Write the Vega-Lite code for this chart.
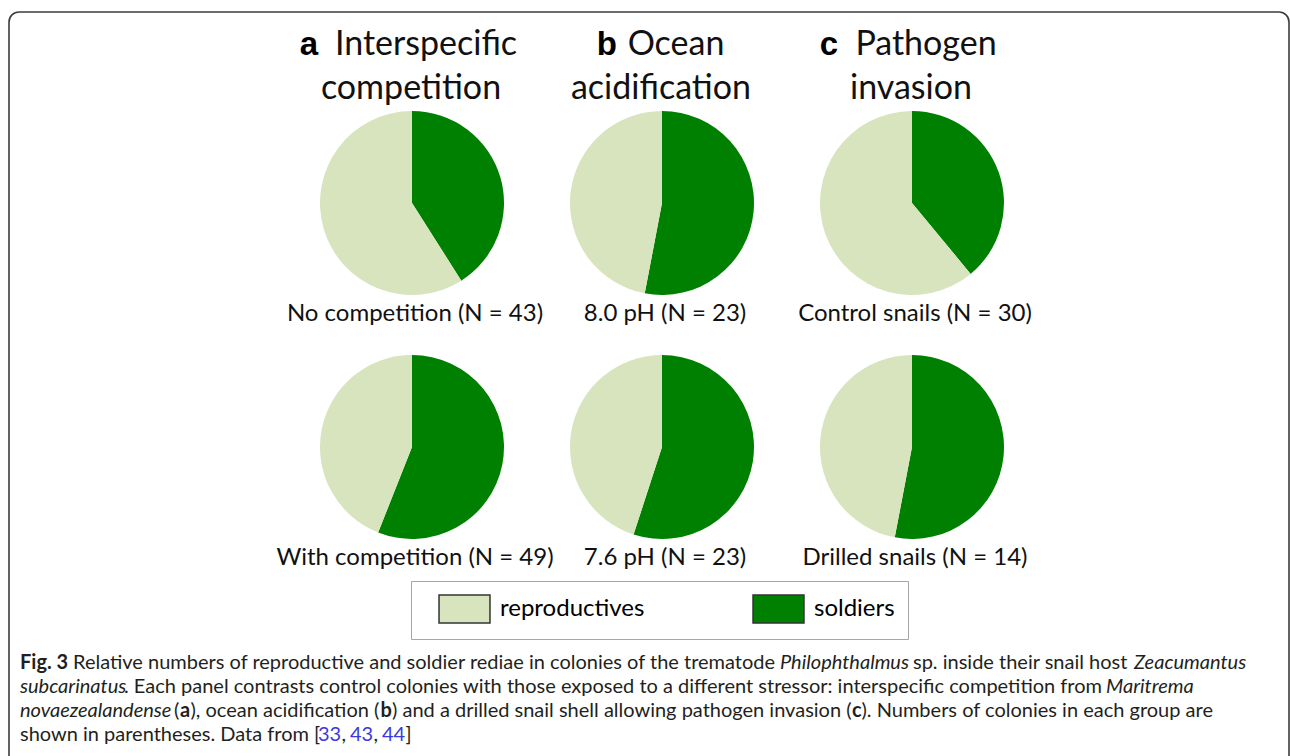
{
 "$schema": "https://vega.github.io/schema/vega-lite/v6.json",
 "width": 1280, "height": 760,
 "autosize": {"type": "none"},
 "padding": {"left": 9, "top": 12, "right": 1, "bottom": -16},
 "background": "white",
 "config": {"view": {"stroke": "#3c3c3c", "strokeWidth": 1.6, "cornerRadius": 10}, "font": "Lato"},
 "layer": [
  {
   "data": {"values": [
    {"col": "a", "row": "control", "group": "soldiers", "pct": 41},
    {"col": "a", "row": "control", "group": "reproductives", "pct": 59},
    {"col": "a", "row": "treatment", "group": "soldiers", "pct": 56},
    {"col": "a", "row": "treatment", "group": "reproductives", "pct": 44},
    {"col": "b", "row": "control", "group": "soldiers", "pct": 53},
    {"col": "b", "row": "control", "group": "reproductives", "pct": 47},
    {"col": "b", "row": "treatment", "group": "soldiers", "pct": 55},
    {"col": "b", "row": "treatment", "group": "reproductives", "pct": 45},
    {"col": "c", "row": "control", "group": "soldiers", "pct": 39},
    {"col": "c", "row": "control", "group": "reproductives", "pct": 61},
    {"col": "c", "row": "treatment", "group": "soldiers", "pct": 53},
    {"col": "c", "row": "treatment", "group": "reproductives", "pct": 47}
   ]},
   "transform": [{"stack": "pct", "groupby": ["col", "row"], "sort": [{"field": "group", "order": "descending"}], "as": ["p0", "p1"]}],
   "mark": {"type": "arc", "radius": 92},
   "encoding": {
    "x": {"field": "col", "type": "nominal", "scale": {"type": "point", "domain": ["a", "b", "c"], "range": [403, 903], "padding": 0}, "axis": null},
    "y": {"field": "row", "type": "nominal", "scale": {"type": "point", "domain": ["control", "treatment"], "range": [191, 435], "padding": 0}, "axis": null},
    "theta": {"field": "p0", "type": "quantitative", "scale": {"domain": [0, 100]}, "stack": null},
    "theta2": {"field": "p1"},
    "color": {"field": "group", "type": "nominal",
     "scale": {"domain": ["reproductives", "soldiers"], "range": ["#D7E4BD", "#008000"]},
     "legend": {"orient": "none", "legendX": 402, "legendY": 569, "direction": "horizontal", "title": null,
      "symbolType": "M-1.82,-1H1.82V1H-1.82Z", "symbolSize": 784, "symbolOffset": 25.5, "labelOffset": 20.5,
      "columnPadding": 93, "padding": 13, "strokeColor": "#a6a6a6", "labelFont": "Lato", "labelFontSize": 24,
      "labelColor": "#000", "symbolStrokeColor": "#333", "symbolStrokeWidth": 1.5, "symbolOpacity": 1}}
   }
  },
  {
   "data": {"values": [{"col": "a", "word": "Interspecific"}, {"col": "b", "word": "Ocean"}, {"col": "c", "word": "Pathogen"}]},
   "mark": {"type": "text", "font": "Lato", "fontSize": 34, "align": "center", "baseline": "alphabetic", "dx": 14, "dy": -148, "color": "#111"},
   "encoding": {"x": {"field": "col", "type": "nominal"}, "y": {"datum": "control"}, "text": {"field": "word"}}
  },
  {
   "data": {"values": [{"col": "a", "word": "competition"}, {"col": "b", "word": "acidification"}, {"col": "c", "word": "invasion"}]},
   "mark": {"type": "text", "font": "Lato", "fontSize": 34, "align": "center", "baseline": "alphabetic", "dx": -1, "dy": -104, "color": "#111"},
   "encoding": {"x": {"field": "col", "type": "nominal"}, "y": {"datum": "control"}, "text": {"field": "word"}}
  },
  {
   "data": {"values": [{"col": "a", "letter": "a"}]},
   "mark": {"type": "text", "font": "Liberation Sans", "fontWeight": "bold", "fontSize": 33, "align": "right", "baseline": "alphabetic", "dx": -94, "dy": -148, "color": "#000"},
   "encoding": {"x": {"field": "col", "type": "nominal"}, "y": {"datum": "control"}, "text": {"field": "letter"}}
  },
  {
   "data": {"values": [{"col": "b", "letter": "b"}]},
   "mark": {"type": "text", "font": "Liberation Sans", "fontWeight": "bold", "fontSize": 33, "align": "right", "baseline": "alphabetic", "dx": -45, "dy": -148, "color": "#000"},
   "encoding": {"x": {"field": "col", "type": "nominal"}, "y": {"datum": "control"}, "text": {"field": "letter"}}
  },
  {
   "data": {"values": [{"col": "c", "letter": "c"}]},
   "mark": {"type": "text", "font": "Liberation Sans", "fontWeight": "bold", "fontSize": 33, "align": "right", "baseline": "alphabetic", "dx": -74, "dy": -148, "color": "#000"},
   "encoding": {"x": {"field": "col", "type": "nominal"}, "y": {"datum": "control"}, "text": {"field": "letter"}}
  },
  {
   "data": {"values": [
    {"col": "a", "row": "control", "label": "No competition (N = 43)"},
    {"col": "a", "row": "treatment", "label": "With competition (N = 49)"},
    {"col": "b", "row": "control", "label": "8.0 pH (N = 23)"},
    {"col": "b", "row": "treatment", "label": "7.6 pH (N = 23)"},
    {"col": "c", "row": "control", "label": "Control snails (N = 30)"},
    {"col": "c", "row": "treatment", "label": "Drilled snails (N = 14)"}
   ]},
   "mark": {"type": "text", "font": "Lato", "fontSize": 24, "align": "center", "baseline": "alphabetic", "dx": 3, "dy": 118, "color": "#111"},
   "encoding": {"x": {"field": "col", "type": "nominal"}, "y": {"field": "row", "type": "nominal"}, "text": {"field": "label"}}
  },
  {"data": {"values": [{"t": "Fig. 3"}]}, "mark": {"type": "text", "align": "left", "baseline": "alphabetic", "fontSize": 20, "fontWeight": "bold", "color": "#231f20", "dx": -392, "dy": 222}, "encoding": {"x": {"datum": "a"}, "y": {"datum": "treatment"}, "text": {"field": "t"}}},
  {"data": {"values": [{"t": "Relative numbers of reproductive and soldier rediae in colonies of the trematode"}]}, "mark": {"type": "text", "align": "left", "baseline": "alphabetic", "fontSize": 20, "color": "#231f20", "dx": -339, "dy": 222}, "encoding": {"x": {"datum": "a"}, "y": {"datum": "treatment"}, "text": {"field": "t"}}},
  {"data": {"values": [{"t": "Philophthalmus"}]}, "mark": {"type": "text", "align": "left", "baseline": "alphabetic", "fontSize": 20, "fontStyle": "italic", "color": "#231f20", "dx": 368, "dy": 222}, "encoding": {"x": {"datum": "a"}, "y": {"datum": "treatment"}, "text": {"field": "t"}}},
  {"data": {"values": [{"t": "sp. inside their snail host"}]}, "mark": {"type": "text", "align": "left", "baseline": "alphabetic", "fontSize": 20, "color": "#231f20", "dx": 501, "dy": 222}, "encoding": {"x": {"datum": "a"}, "y": {"datum": "treatment"}, "text": {"field": "t"}}},
  {"data": {"values": [{"t": "Zeacumantus"}]}, "mark": {"type": "text", "align": "left", "baseline": "alphabetic", "fontSize": 20, "fontStyle": "italic", "color": "#231f20", "dx": 722, "dy": 222}, "encoding": {"x": {"datum": "a"}, "y": {"datum": "treatment"}, "text": {"field": "t"}}},
  {"data": {"values": [{"t": "subcarinatus"}]}, "mark": {"type": "text", "align": "left", "baseline": "alphabetic", "fontSize": 20, "fontStyle": "italic", "color": "#231f20", "dx": -392, "dy": 246}, "encoding": {"x": {"datum": "a"}, "y": {"datum": "treatment"}, "text": {"field": "t"}}},
  {"data": {"values": [{"t": ". Each panel contrasts control colonies with those exposed to a different stressor: interspecific competition from"}]}, "mark": {"type": "text", "align": "left", "baseline": "alphabetic", "fontSize": 20, "color": "#231f20", "dx": -288, "dy": 246}, "encoding": {"x": {"datum": "a"}, "y": {"datum": "treatment"}, "text": {"field": "t"}}},
  {"data": {"values": [{"t": "Maritrema"}]}, "mark": {"type": "text", "align": "left", "baseline": "alphabetic", "fontSize": 20, "fontStyle": "italic", "color": "#231f20", "dx": 694, "dy": 246}, "encoding": {"x": {"datum": "a"}, "y": {"datum": "treatment"}, "text": {"field": "t"}}},
  {"data": {"values": [{"t": "novaezealandense"}]}, "mark": {"type": "text", "align": "left", "baseline": "alphabetic", "fontSize": 20, "fontStyle": "italic", "color": "#231f20", "dx": -392, "dy": 270}, "encoding": {"x": {"datum": "a"}, "y": {"datum": "treatment"}, "text": {"field": "t"}}},
  {"data": {"values": [{"t": "("}]}, "mark": {"type": "text", "align": "left", "baseline": "alphabetic", "fontSize": 20, "color": "#231f20", "dx": -238, "dy": 270}, "encoding": {"x": {"datum": "a"}, "y": {"datum": "treatment"}, "text": {"field": "t"}}},
  {"data": {"values": [{"t": "a"}]}, "mark": {"type": "text", "align": "left", "baseline": "alphabetic", "fontSize": 20, "fontWeight": "bold", "color": "#231f20", "dx": -232, "dy": 270}, "encoding": {"x": {"datum": "a"}, "y": {"datum": "treatment"}, "text": {"field": "t"}}},
  {"data": {"values": [{"t": "), ocean acidification ("}]}, "mark": {"type": "text", "align": "left", "baseline": "alphabetic", "fontSize": 20, "color": "#231f20", "dx": -221.5, "dy": 270}, "encoding": {"x": {"datum": "a"}, "y": {"datum": "treatment"}, "text": {"field": "t"}}},
  {"data": {"values": [{"t": "b"}]}, "mark": {"type": "text", "align": "left", "baseline": "alphabetic", "fontSize": 20, "fontWeight": "bold", "color": "#231f20", "dx": -31.5, "dy": 270}, "encoding": {"x": {"datum": "a"}, "y": {"datum": "treatment"}, "text": {"field": "t"}}},
  {"data": {"values": [{"t": ") and a drilled snail shell allowing pathogen invasion ("}]}, "mark": {"type": "text", "align": "left", "baseline": "alphabetic", "fontSize": 20, "color": "#231f20", "dx": -20, "dy": 270}, "encoding": {"x": {"datum": "a"}, "y": {"datum": "treatment"}, "text": {"field": "t"}}},
  {"data": {"values": [{"t": "c"}]}, "mark": {"type": "text", "align": "left", "baseline": "alphabetic", "fontSize": 20, "fontWeight": "bold", "color": "#231f20", "dx": 440, "dy": 270}, "encoding": {"x": {"datum": "a"}, "y": {"datum": "treatment"}, "text": {"field": "t"}}},
  {"data": {"values": [{"t": "). Numbers of colonies in each group are"}]}, "mark": {"type": "text", "align": "left", "baseline": "alphabetic", "fontSize": 20, "color": "#231f20", "dx": 449.5, "dy": 270}, "encoding": {"x": {"datum": "a"}, "y": {"datum": "treatment"}, "text": {"field": "t"}}},
  {"data": {"values": [{"t": "shown in parentheses. Data from ["}]}, "mark": {"type": "text", "align": "left", "baseline": "alphabetic", "fontSize": 20, "color": "#231f20", "dx": -392, "dy": 294}, "encoding": {"x": {"datum": "a"}, "y": {"datum": "treatment"}, "text": {"field": "t"}}},
  {"data": {"values": [{"t": "33"}]}, "mark": {"type": "text", "align": "left", "baseline": "alphabetic", "fontSize": 20, "color": "#3a3ae0", "dx": -94, "dy": 294}, "encoding": {"x": {"datum": "a"}, "y": {"datum": "treatment"}, "text": {"field": "t"}}},
  {"data": {"values": [{"t": ","}]}, "mark": {"type": "text", "align": "left", "baseline": "alphabetic", "fontSize": 20, "color": "#231f20", "dx": -70.5, "dy": 294}, "encoding": {"x": {"datum": "a"}, "y": {"datum": "treatment"}, "text": {"field": "t"}}},
  {"data": {"values": [{"t": "43"}]}, "mark": {"type": "text", "align": "left", "baseline": "alphabetic", "fontSize": 20, "color": "#3a3ae0", "dx": -62, "dy": 294}, "encoding": {"x": {"datum": "a"}, "y": {"datum": "treatment"}, "text": {"field": "t"}}},
  {"data": {"values": [{"t": ","}]}, "mark": {"type": "text", "align": "left", "baseline": "alphabetic", "fontSize": 20, "color": "#231f20", "dx": -38.5, "dy": 294}, "encoding": {"x": {"datum": "a"}, "y": {"datum": "treatment"}, "text": {"field": "t"}}},
  {"data": {"values": [{"t": "44"}]}, "mark": {"type": "text", "align": "left", "baseline": "alphabetic", "fontSize": 20, "color": "#3a3ae0", "dx": -30, "dy": 294}, "encoding": {"x": {"datum": "a"}, "y": {"datum": "treatment"}, "text": {"field": "t"}}},
  {"data": {"values": [{"t": "]"}]}, "mark": {"type": "text", "align": "left", "baseline": "alphabetic", "fontSize": 20, "color": "#231f20", "dx": -6.5, "dy": 294}, "encoding": {"x": {"datum": "a"}, "y": {"datum": "treatment"}, "text": {"field": "t"}}}
 ]
}
